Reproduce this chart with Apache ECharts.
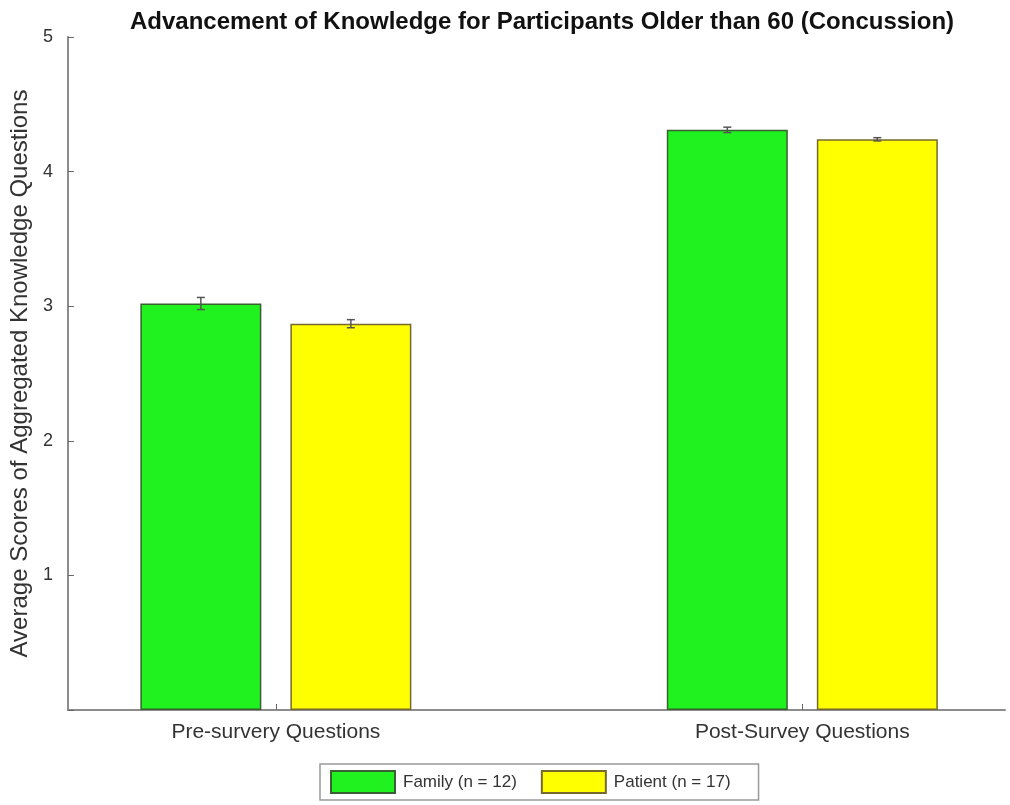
<!DOCTYPE html>
<html>
<head>
<meta charset="utf-8">
<script src="https://cdn.jsdelivr.net/npm/echarts@6/dist/echarts.min.js"></script>
<style>
  html, body { margin: 0; padding: 0; background: #fff; }
  #chart { width: 1010px; height: 805px; }
</style>
</head>
<body>
<div id="chart"></div>
<script>
const groups = ["Pre-survery Questions", "Post-Survey Questions"];
const groupPos = [1, 2];
const familyMean = [3.02, 4.31];
const familyErr = [0.045, 0.02];
const patientMean = [2.87, 4.24];
const patientErr = [0.03, 0.012];
const yTicks = [1, 2, 3, 4, 5];

const axisGray = "#8c8c8c";
const textGray = "#333";
const font = "Liberation Sans";

// error bars sit on each bar's centre, drawn off the same scales
function errorSeries(name, means, errs, dx) {
  return {
    type: "custom",
    name: name + " err",
    silent: true,
    z: 5,
    data: groupPos.map((x, i) => [x, means[i] - errs[i], means[i] + errs[i]]),
    renderItem: (params, api) => {
      const lo = api.coord([api.value(0), api.value(1)]);
      const hi = api.coord([api.value(0), api.value(2)]);
      const x = lo[0] + dx;
      const style = { stroke: "#555", lineWidth: 1.5 };
      return {
        type: "group",
        children: [
          { type: "line", shape: { x1: x, y1: lo[1], x2: x, y2: hi[1] }, style },
          { type: "line", shape: { x1: x - 4, y1: lo[1], x2: x + 4, y2: lo[1] }, style },
          { type: "line", shape: { x1: x - 4, y1: hi[1], x2: x + 4, y2: hi[1] }, style },
        ],
      };
    },
  };
}

const chart = echarts.init(document.getElementById("chart"));
chart.setOption({
  animation: false,
  backgroundColor: "#fff",
  title: {
    text: "Advancement of Knowledge for Participants Older than 60 (Concussion)",
    left: 537,
    textAlign: "center",
    top: 5,
    textStyle: { fontFamily: font, fontSize: 24, fontWeight: "bold", color: "#111" },
  },
  legend: {
    bottom: 5,
    left: 320,
    data: ["Family (n = 12)", "Patient (n = 17)"],
    icon: "rect",
    itemWidth: 64,
    itemHeight: 22,
    itemGap: 24,
    padding: [6, 28, 6, 10],
    borderColor: "#999",
    borderWidth: 1.5,
    textStyle: { fontFamily: font, fontSize: 17, color: textGray, padding: [0, 0, 0, 3] },
  },
  grid: { left: 67, right: 5, top: 37, bottom: 95 },
  xAxis: {
    type: "value",
    min: 0.605,
    max: 2.385,
    splitLine: { show: false },
    axisLine: { lineStyle: { color: axisGray, width: 2 } },
    axisTick: { inside: true, length: 6, customValues: groupPos, lineStyle: { color: "#666" } },
    axisLabel: {
      customValues: groupPos,
      formatter: (v) => groups[groupPos.indexOf(v)] || "",
      margin: 12,
      fontFamily: font,
      fontSize: 21,
      color: textGray,
    },
  },
  yAxis: {
    type: "value",
    min: 0,
    max: 5,
    interval: 1,
    name: "Average Scores of Aggregated Knowledge Questions",
    nameLocation: "middle",
    nameGap: 32,
    nameTextStyle: { fontFamily: font, fontSize: 24, color: textGray },
    splitLine: { show: false },
    axisLine: { show: true, lineStyle: { color: axisGray, width: 2 } },
    axisTick: { show: true, inside: true, length: 6, lineStyle: { color: "#666" } },
    axisLabel: {
      customValues: yTicks,
      margin: 15,
      fontFamily: font,
      fontSize: 18,
      color: textGray,
    },
  },
  series: [
    {
      type: "bar",
      name: "Family (n = 12)",
      data: groupPos.map((x, i) => [x, familyMean[i]]),
      barWidth: 121,
      barGap: "24%",
      itemStyle: { color: "#1ff21f", borderColor: "#3a5f32", borderWidth: 1.5 },
    },
    {
      type: "bar",
      name: "Patient (n = 17)",
      data: groupPos.map((x, i) => [x, patientMean[i]]),
      barWidth: 121,
      barGap: "24%",
      itemStyle: { color: "#ffff00", borderColor: "#75692f", borderWidth: 1.5 },
    },
    errorSeries("Family", familyMean, familyErr, -75),
    errorSeries("Patient", patientMean, patientErr, 75),
  ],
});
</script>
</body>
</html>
